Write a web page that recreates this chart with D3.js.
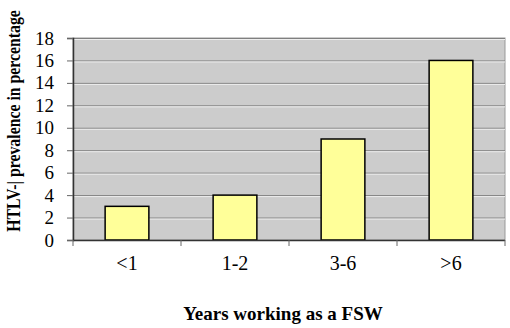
<!DOCTYPE html>
<html><head><meta charset="utf-8">
<script src="https://cdn.jsdelivr.net/npm/d3@7"></script>
<style>body{margin:0;background:#fff}svg{display:block}</style>
</head><body>
<svg id="c" width="510" height="328"></svg>
<script>
const categories = ["<1", "1-2", "3-6", ">6"];
const values = [3, 4, 9, 16];
const yTicks = [0, 2, 4, 6, 8, 10, 12, 14, 16, 18];
const xTitle = "Years working as a FSW";
const yTitle = "HTLV-| prevalence in percentage";

const FONT = "'Liberation Serif'";
const svg = d3.select("#c");
const m = {l: 73, r: 5, t: 38, b: 88};
const W = 510, H = 328;
const x = d3.scaleBand().domain(categories).range([m.l, W - m.r]).paddingInner(0.595).paddingOuter(0.2975);
const y = d3.scaleLinear().domain([0, 18]).range([H - m.b, m.t]);

svg.append("rect").attr("x", m.l).attr("y", m.t).attr("width", W - m.r - m.l).attr("height", H - m.b - m.t)
  .attr("fill", "#cccccc").attr("stroke", "#999").attr("stroke-width", 1);

const g = svg.append("g");
yTicks.filter(d => d > 0).forEach(d => {
  g.append("line").attr("x1", m.l).attr("x2", W - m.r).attr("y1", y(d) + 0.5).attr("y2", y(d) + 0.5)
    .attr("stroke", "#7f7f7f").attr("stroke-width", 1);
  g.append("line").attr("x1", m.l).attr("x2", W - m.r).attr("y1", y(d) + 1.5).attr("y2", y(d) + 1.5)
    .attr("stroke", "#eeeeee").attr("stroke-width", 1);
});

svg.selectAll("rect.bar").data(values).join("rect").attr("class", "bar")
  .attr("x", (d, i) => x(categories[i]))
  .attr("width", x.bandwidth())
  .attr("y", d => y(d))
  .attr("height", d => y(0) - y(d))
  .attr("fill", "#ffff99").attr("stroke", "#000").attr("stroke-width", 1.5);

const ya = svg.append("g").attr("transform", `translate(${m.l},0)`)
  .call(d3.axisLeft(y).tickValues(yTicks).tickSize(6).tickPadding(13).tickFormat(d3.format("d")));
ya.select(".domain").attr("stroke", "#333").attr("stroke-width", 1.5);
ya.selectAll(".tick line").attr("stroke", "#666");
ya.selectAll("text").style("font-family", FONT).style("font-size", "19px").attr("fill", "#000");

const xa = svg.append("g").attr("transform", `translate(0,${y(0)})`);
xa.append("line").attr("x1", m.l).attr("x2", W - m.r).attr("y1", 0.5).attr("y2", 0.5).attr("stroke", "#333").attr("stroke-width", 1.5);
const step = (W - m.r - m.l) / categories.length;
d3.range(categories.length + 1).forEach(i => {
  xa.append("line").attr("x1", m.l + i * step).attr("x2", m.l + i * step).attr("y1", 0).attr("y2", 6).attr("stroke", "#666");
});
xa.selectAll("text").data(categories).join("text")
  .attr("x", d => x(d) + x.bandwidth() / 2).attr("y", 30)
  .attr("text-anchor", "middle")
  .style("font-family", FONT).style("font-size", "20px").text(d => d);

svg.append("text").attr("x", 283).attr("y", 320).attr("text-anchor", "middle")
  .style("font-family", FONT).style("font-weight", "bold").style("font-size", "19px").text(xTitle);
const yt = svg.append("text").attr("text-anchor", "middle")
  .style("font-family", FONT).style("font-weight", "bold").style("font-size", "16px").text(yTitle);
const len = yt.node().getComputedTextLength();
const sc = Math.min(1, 222 / len);
yt.attr("transform", `translate(20,121) rotate(-90) scale(${sc},1.12)`);
</script>
</body></html>
